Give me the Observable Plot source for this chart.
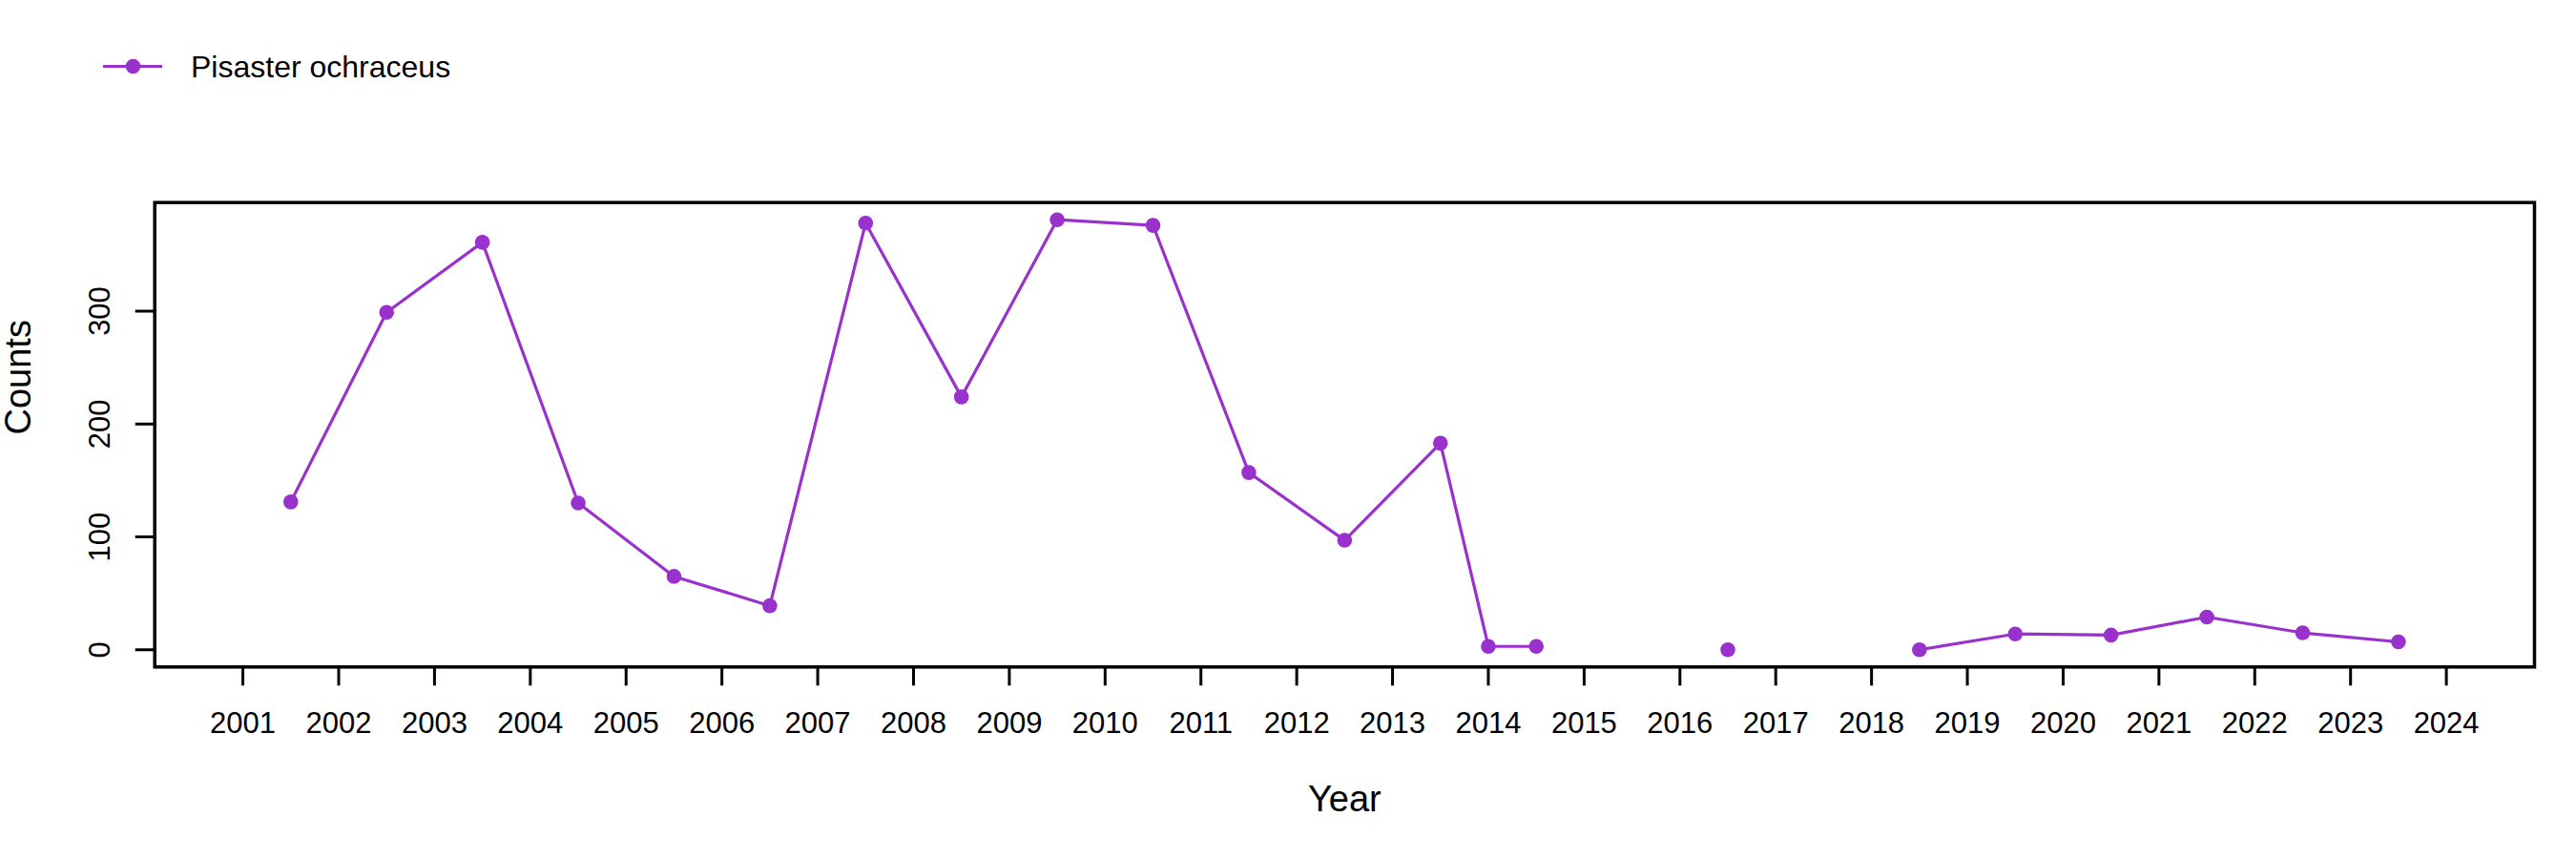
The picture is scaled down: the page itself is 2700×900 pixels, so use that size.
<!DOCTYPE html>
<html>
<head>
<meta charset="utf-8">
<script src="https://cdn.jsdelivr.net/npm/d3@7"></script>
<script src="https://cdn.jsdelivr.net/npm/@observablehq/plot@0.6"></script>
<style>
  html, body { margin: 0; padding: 0; background: white; }
  #wrap { position: relative; width: 2700px; height: 900px; font-family: "Liberation Sans", Arial, sans-serif; }
  #legend { position: relative; width: 2700px; height: 140px; }
  #chart svg { display: block; }
</style>
</head>
<body>
<div id="wrap">
  <div id="legend"></div>
  <div id="chart"></div>
</div>
<script>
// ---- data ----
const seriesName = "Pisaster ochraceus";
const years  = [2001.5, 2002.5, 2003.5, 2004.5, 2005.5, 2006.5, 2007.5, 2008.5, 2009.5, 2010.5, 2011.5, 2012.5, 2013.5, 2014.0, 2014.5, 2015.5, 2016.5, 2017.5, 2018.5, 2019.5, 2020.5, 2021.5, 2022.5, 2023.5];
const counts = [131, 299, 361, 130, 65, 39, 378, 224, 381, 376, 157, 97, 183, 3, 3, null, 0, null, 0, 14, 13, 29, 15, 7];
const xTicks = [2001, 2002, 2003, 2004, 2005, 2006, 2007, 2008, 2009, 2010, 2011, 2012, 2013, 2014, 2015, 2016, 2017, 2018, 2019, 2020, 2021, 2022, 2023, 2024];
const yTicks = [0, 100, 200, 300];
const color = "#9932CC";

const rows = years.map((y, i) => ({year: y, count: counts[i]}));

// R-style 4% axis extension
const xlim = [2001, 2024];
const xr = xlim[1] - xlim[0];
const xDomain = [xlim[0] - 0.04 * xr, xlim[1] + 0.04 * xr];
const valid = counts.filter(v => v != null);
const ymin = d3.min(valid), ymax = d3.max(valid);
const yr = ymax - ymin;
const yDomain = [ymin - 0.04 * yr, ymax + 0.04 * yr];

// ---- legend (HTML/SVG above the plot) ----
const leg = d3.select("#legend").append("svg").attr("width", 700).attr("height", 140);
leg.append("line").attr("x1", 108).attr("x2", 170).attr("y1", 69.5).attr("y2", 69.5)
   .attr("stroke", color).attr("stroke-width", 3.2);
leg.append("circle").attr("cx", 139.5).attr("cy", 69.5).attr("r", 7.8).attr("fill", color);
leg.append("text").attr("x", 200).attr("y", 81).attr("font-size", 32)
   .attr("font-family", "Liberation Sans, Arial, sans-serif").attr("fill", "black").text(seriesName);

// ---- main plot ----
const chart = Plot.plot({
  width: 2700,
  height: 760,
  marginTop: 71.7,
  marginBottom: 201.7,
  marginLeft: 161.7,
  marginRight: 44,
  style: {fontFamily: "Liberation Sans, Arial, sans-serif", fontSize: "31px", background: "white", color: "black", overflow: "visible"},
  x: {domain: xDomain, label: null},
  y: {domain: yDomain, label: null},
  marks: [
    Plot.frame({stroke: "black", strokeWidth: 3.5}),
    Plot.axisX(xTicks, {tickSize: 20, tickPadding: 27.5, strokeWidth: 3, fontSize: 31, tickFormat: d => String(d), label: null}),
    // y tick marks
    Plot.axisY(yTicks, {tickSize: 20, strokeWidth: 3, tickFormat: () => "", label: null}),
    // y tick labels, rotated like R's default
    Plot.axisY(yTicks, {tickSize: 0, tickPadding: 47.5, fontSize: 31, rotate: -90, textAnchor: "middle", lineAnchor: "bottom", tickFormat: d => String(d), label: null}),
    Plot.line(rows, {x: "year", y: "count", stroke: color, strokeWidth: 3.2}),
    Plot.dot(rows, {x: "year", y: "count", r: 7.8, fill: color, stroke: "none"}),
    Plot.text(["Year"], {frameAnchor: "bottom", dy: 150.7, lineAnchor: "bottom", fontSize: 38, fill: "black"}),
    Plot.text(["Counts"], {frameAnchor: "left", dx: -130.7, rotate: -90, lineAnchor: "bottom", fontSize: 38, fill: "black"})
  ]
});
document.getElementById("chart").appendChild(chart);
</script>
</body>
</html>
